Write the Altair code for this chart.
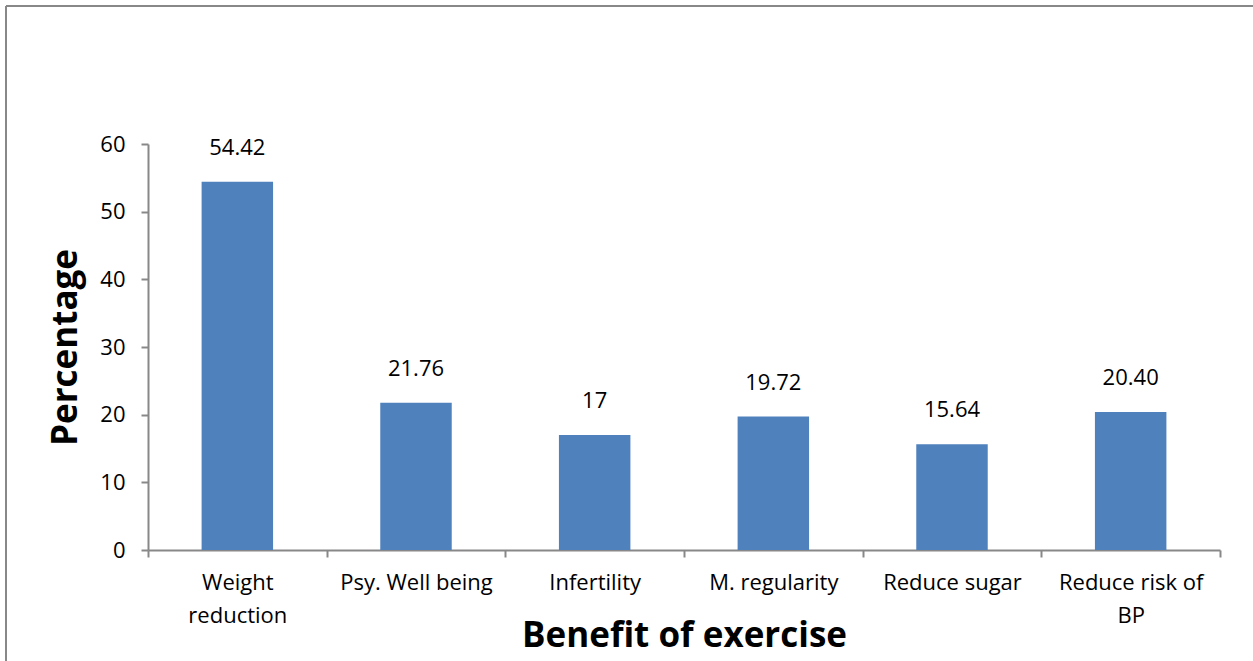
import altair as alt
import pandas as pd

# Survey responses: perceived benefit of exercise (percent)
benefits = [
    "Weight\nreduction",
    "Psy. Well being",
    "Infertility",
    "M. regularity",
    "Reduce sugar",
    "Reduce risk of\nBP",
]
percentages = [54.42, 21.76, 17, 19.72, 15.64, 20.40]
value_labels = ["54.42", "21.76", "17", "19.72", "15.64", "20.40"]

df = pd.DataFrame({"benefit": benefits, "pct": percentages, "label": value_labels})

FONT = "Open Sans"
GRAY = "#888888"
W, H = 1072, 406

x_enc = alt.X(
    "benefit:N",
    sort=benefits,
    scale=alt.Scale(paddingInner=0, paddingOuter=0),
    axis=alt.Axis(
        title="Benefit of exercise",
        titleFont=FONT,
        titleFontSize=35,
        titleFontWeight="bold",
        titleColor="black",
        titleX=W / 2,
        titleY=85,
        titleBaseline="middle",
        titleAlign="center",
        labelExpr="split(datum.label, '\\n')",
        labelAngle=0,
        labelFont=FONT,
        labelFontSize=22,
        labelColor="black",
        labelLineHeight=33,
        labelPadding=15,
        labelBaseline="top",
        tickBand="extent",
        tickSize=7,
        tickColor=GRAY,
        tickWidth=2,
        domainColor=GRAY,
        domainWidth=2,
    ),
)

y_enc = alt.Y(
    "pct:Q",
    scale=alt.Scale(domain=[0, 60], nice=False),
    axis=alt.Axis(
        title="Percentage",
        titleFont=FONT,
        titleFontSize=35,
        titleFontWeight="bold",
        titleColor="black",
        titleAngle=-90,
        titleX=-83,
        titleY=H / 2,
        titleAlign="center",
        titleBaseline="middle",
        values=[0, 10, 20, 30, 40, 50, 60],
        labelFont=FONT,
        labelFontSize=22,
        labelColor="black",
        labelPadding=16,
        tickSize=7,
        tickColor=GRAY,
        tickWidth=2,
        domainColor=GRAY,
        domainWidth=2,
        grid=False,
    ),
)

bars = alt.Chart(df).mark_bar(
    color="#4F81BD", width=alt.RelativeBandSize(0.4)
).encode(x=x_enc, y=y_enc)

text = alt.Chart(df).mark_text(
    font=FONT, fontSize=22, color="black", baseline="alphabetic", dy=-27
).encode(x=alt.X("benefit:N", sort=benefits), y="pct:Q", text="label:N")

# Outer frame of the figure (top and left edges)
frame_top = alt.Chart().mark_rule(color=GRAY, strokeWidth=2).encode(
    x=alt.value(-142), x2=alt.value(W + 60), y=alt.value(-138)
)
frame_left = alt.Chart().mark_rule(color=GRAY, strokeWidth=2).encode(
    x=alt.value(-142), y=alt.value(-138), y2=alt.value(H + 120)
)

chart = (
    alt.layer(frame_top, frame_left, bars, text)
    .properties(
        width=W,
        height=H,
        autosize=alt.AutoSizeParams(type="none"),
        padding={"left": 148, "top": 144, "right": 33, "bottom": 111},
        background="white",
    )
    .configure_view(stroke=None)
)

chart.save("out.html", embed_options={"renderer": "svg", "actions": False})
